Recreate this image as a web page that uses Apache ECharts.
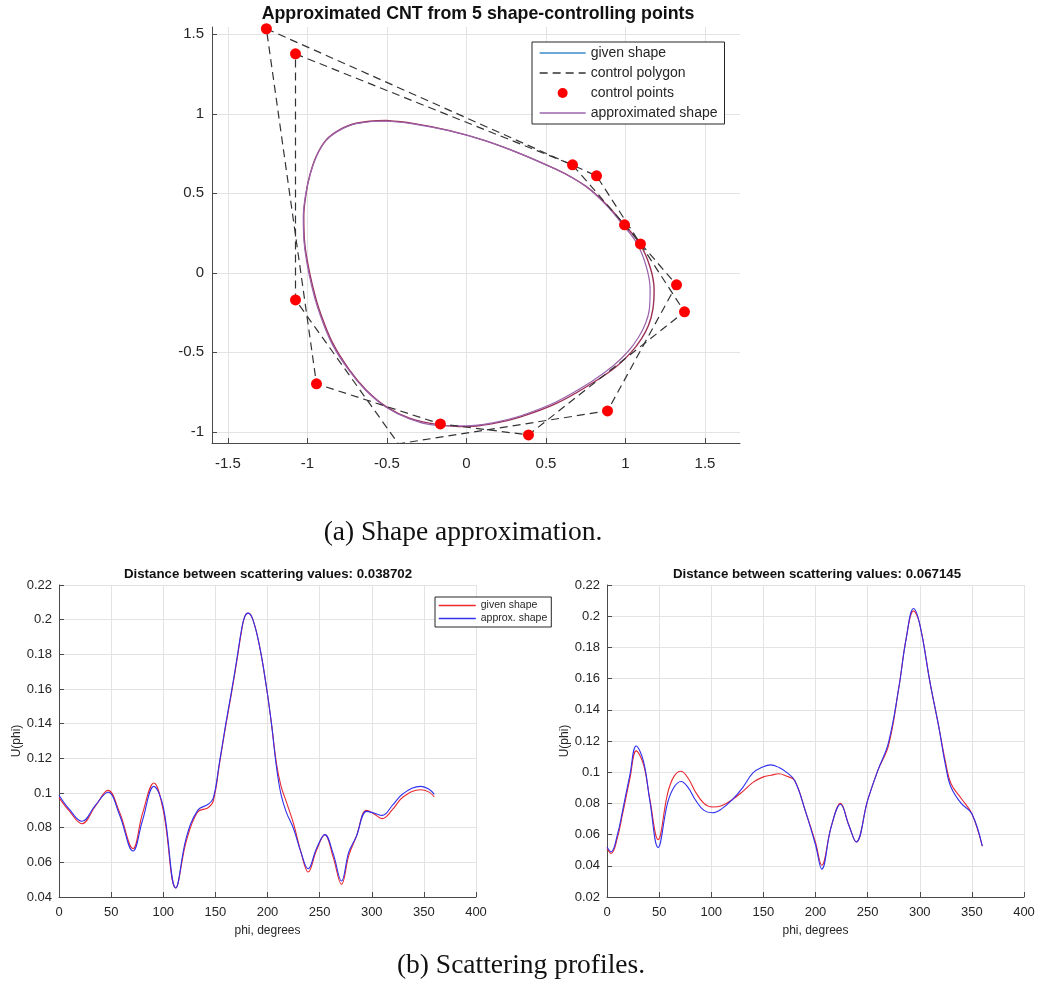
<!DOCTYPE html>
<html><head><meta charset="utf-8">
<script src="https://cdn.jsdelivr.net/npm/echarts@6/dist/echarts.min.js"></script>
<style>html,body{margin:0;padding:0;background:#fff}#c{width:1042px;height:988px}</style>
</head><body><div id="c"></div>
<script>
// ---------- (a) Shape approximation ----------
const outerPolygon = [[-1.258,1.535],[0.818,0.610],[1.094,0.182],[1.371,-0.245],[0.390,-1.019],[-0.164,-0.950],[-0.943,-0.698]];
const innerPolygon = [[-1.075,1.377],[0.667,0.679],[0.994,0.302],[1.321,-0.075],[0.887,-0.868],[-0.428,-1.075],[-1.075,-0.170]];
const givenShape = [[-0.505,0.958],[-0.694,0.941],[-0.799,0.899],[-0.882,0.836],[-0.945,0.732],[-0.987,0.606],[-1.008,0.501],[-1.023,0.354],[-1.019,0.208],[-1.002,0.082],[-0.968,-0.08],[-0.925,-0.233],[-0.841,-0.442],[-0.736,-0.610],[-0.631,-0.736],[-0.505,-0.841],[-0.358,-0.914],[-0.170,-0.956],[0,-0.967],[0.165,-0.948],[0.337,-0.907],[0.562,-0.823],[0.787,-0.696],[0.935,-0.595],[1.035,-0.50],[1.10,-0.415],[1.145,-0.33],[1.172,-0.23],[1.180,-0.107],[1.155,0.035],[1.088,0.187],[0.983,0.313],[0.90,0.41],[0.818,0.49],[0.75,0.545],[0.667,0.598],[0.562,0.652],[0.337,0.75],[0.112,0.833],[-0.112,0.896],[-0.337,0.940],[-0.505,0.958]];
const approxShape = [[-0.505,0.955],[-0.694,0.938],[-0.799,0.896],[-0.882,0.833],[-0.945,0.729],[-0.987,0.603],[-1.010,0.498],[-1.026,0.351],[-1.022,0.205],[-1.006,0.079],[-0.973,-0.083],[-0.930,-0.236],[-0.846,-0.445],[-0.740,-0.612],[-0.634,-0.738],[-0.505,-0.845],[-0.358,-0.918],[-0.170,-0.960],[0,-0.962],[0.165,-0.943],[0.337,-0.900],[0.562,-0.812],[0.787,-0.683],[0.925,-0.583],[1.020,-0.49],[1.082,-0.405],[1.125,-0.32],[1.150,-0.23],[1.155,-0.107],[1.132,0.035],[1.073,0.184],[0.975,0.312],[0.895,0.408],[0.815,0.489],[0.75,0.544],[0.667,0.597],[0.562,0.651],[0.337,0.75],[0.112,0.833],[-0.112,0.894],[-0.337,0.937],[-0.505,0.955]];
const xTicksA = [-1.5,-1,-0.5,0,0.5,1,1.5];
const yTicksA = [-1,-0.5,0,0.5,1,1.5];

// ---------- (b) Scattering profiles ----------
const phiL    = [0,10,22,35,47,58,71,80,91,100,112,122,133,143,148,154,160,165,170,175,178,181.5,186,192.6,199,203.8,208.6,213,218,225,232,239,247,255,263,271,278,285,295,302,310,320,330,347,355,360];
const givenL  = [0.0973,0.0895,0.0823,0.0925,0.1015,0.089,0.0679,0.088,0.1058,0.090,0.0452,0.072,0.089,0.0915,0.0955,0.117,0.139,0.156,0.174,0.193,0.2015,0.2038,0.200,0.184,0.161,0.140,0.117,0.104,0.095,0.0823,0.066,0.0544,0.067,0.076,0.063,0.0473,0.064,0.0746,0.090,0.088,0.0852,0.0905,0.0977,0.1019,0.1005,0.0977];
const approxL = [0.0987,0.0905,0.0837,0.0930,0.1004,0.0875,0.0665,0.084,0.1038,0.092,0.0452,0.074,0.090,0.0935,0.097,0.118,0.140,0.157,0.175,0.194,0.2015,0.2038,0.200,0.184,0.161,0.140,0.115,0.099,0.089,0.0794,0.066,0.0563,0.068,0.076,0.065,0.0492,0.066,0.0746,0.0894,0.0885,0.0871,0.093,0.0996,0.1038,0.1022,0.0992];
const phiR    = [0,4,10,15,22,28,35,41,49,58,64,71,78,85,93,101,110,120,130,140,150,157,165,172,180,190,200,206,215,224,232,239,250,260,270,280,287,294,300,310,318,325,330,340,350,360];
const givenR  = [0.051,0.0479,0.058,0.0734,0.096,0.1137,0.105,0.083,0.0568,0.086,0.097,0.1006,0.096,0.0872,0.080,0.0777,0.0785,0.0823,0.0875,0.0935,0.097,0.098,0.099,0.0975,0.0947,0.0757,0.055,0.0404,0.0649,0.080,0.066,0.0553,0.0819,0.1015,0.117,0.1545,0.1858,0.2034,0.195,0.157,0.130,0.1055,0.0926,0.083,0.0734,0.0526];
const approxR = [0.0521,0.049,0.060,0.0755,0.0985,0.1168,0.107,0.082,0.0517,0.080,0.090,0.094,0.090,0.082,0.0755,0.074,0.0765,0.0823,0.090,0.0995,0.1035,0.1047,0.103,0.100,0.0947,0.0757,0.0535,0.0379,0.0649,0.0795,0.066,0.0553,0.0819,0.1015,0.119,0.1545,0.1858,0.2049,0.1948,0.157,0.130,0.1034,0.0904,0.0798,0.0734,0.0526];

const pairs = (xs, ys) => xs.map((x, i) => [x, ys[i]]);
const closed = a => a.concat([a[0]]);

const FONT = 'Liberation Sans, Arial, sans-serif';
const AX = '#262626';
const GRID = '#e3e3e3';

function valueAxis(gi, min, max, extra) {
  return Object.assign({
    type: 'value', gridIndex: gi, min: min, max: max,
    axisLine: {show: true, onZero: false, lineStyle: {color: '#4a4a4a', width: 1}},
    axisTick: {show: true, inside: true, length: 5, lineStyle: {color: '#4a4a4a'}},
    axisLabel: {color: AX, fontFamily: FONT, fontSize: 13},
    splitLine: {show: true, lineStyle: {color: GRID, width: 1}}
  }, extra || {});
}
const hideSym = {opacity: 0};

const chart = echarts.init(document.getElementById('c'), null, {renderer: 'canvas'});
const option = {
  animation: false,
  backgroundColor: '#fff',
  grid: [
    {left: 212, top: 27, width: 528, height: 416},
    {left: 59, top: 585, width: 417, height: 312},
    {left: 607, top: 585, width: 417, height: 312}
  ],
  xAxis: [
    valueAxis(0, -1.6, 1.72, {
      axisTick: {show: true, inside: true, length: 5, customValues: xTicksA, lineStyle: {color: '#4a4a4a'}},
      axisLabel: {color: AX, fontFamily: FONT, fontSize: 15, margin: 13, customValues: xTicksA}
    }),
    valueAxis(1, 0, 400, {interval: 50, axisLabel: {color: AX, fontFamily: FONT, fontSize: 13, margin: 9},
      name: 'phi, degrees', nameLocation: 'middle', nameGap: 28, nameTextStyle: {color: AX, fontFamily: FONT, fontSize: 12}}),
    valueAxis(2, 0, 400, {interval: 50, axisLabel: {color: AX, fontFamily: FONT, fontSize: 13, margin: 9},
      name: 'phi, degrees', nameLocation: 'middle', nameGap: 28, nameTextStyle: {color: AX, fontFamily: FONT, fontSize: 12}})
  ],
  yAxis: [
    valueAxis(0, -1.07, 1.546, {
      axisTick: {show: true, inside: true, length: 5, customValues: yTicksA, lineStyle: {color: '#4a4a4a'}},
      axisLabel: {color: AX, fontFamily: FONT, fontSize: 15, margin: 8, customValues: yTicksA}
    }),
    valueAxis(1, 0.04, 0.22, {interval: 0.02, axisLabel: {color: AX, fontFamily: FONT, fontSize: 13, margin: 7},
      name: 'U(phi)', nameLocation: 'middle', nameGap: 35, nameRotate: 90, nameTextStyle: {color: AX, fontFamily: FONT, fontSize: 12}}),
    valueAxis(2, 0.02, 0.22, {interval: 0.02, axisLabel: {color: AX, fontFamily: FONT, fontSize: 13, margin: 7},
      name: 'U(phi)', nameLocation: 'middle', nameGap: 35, nameRotate: 90, nameTextStyle: {color: AX, fontFamily: FONT, fontSize: 12}})
  ],
  legend: [
    {
      orient: 'vertical', left: 532, top: 42, padding: [4, 7, 4, 7], itemGap: 6,
      itemWidth: 46, itemHeight: 10, backgroundColor: '#fff', borderColor: '#262626', borderWidth: 1,
      borderRadius: 0, selectedMode: false,
      textStyle: {fontFamily: FONT, fontSize: 14, color: AX},
      data: [
        {name: 'given shape', itemStyle: hideSym, lineStyle: {color: '#3a8ecb', width: 1.3, type: 'solid'}},
        {name: 'control polygon', itemStyle: hideSym, lineStyle: {color: '#333', width: 1.3, type: [8, 5]}},
        {name: 'control points', icon: 'circle', itemStyle: {color: '#ff0000'}},
        {name: 'approximated shape', itemStyle: hideSym, lineStyle: {color: '#9a64ad', width: 1.3, type: 'solid'}}
      ]
    },
    {
      orient: 'vertical', left: 435, top: 597, padding: [3, 4, 3, 3], itemGap: 2,
      itemWidth: 37, itemHeight: 10, backgroundColor: '#fff', borderColor: '#262626', borderWidth: 1,
      borderRadius: 0, selectedMode: false,
      textStyle: {fontFamily: FONT, fontSize: 10.5, color: AX},
      data: [
        {name: 'given shape ', itemStyle: hideSym, lineStyle: {color: '#ee2a2a', width: 1.5, type: 'solid'}},
        {name: 'approx. shape', itemStyle: hideSym, lineStyle: {color: '#3333f0', width: 1.5, type: 'solid'}}
      ]
    }
  ],
  graphic: [
    {type: 'text', x: 478, y: 14, style: {text: 'Approximated CNT from 5 shape-controlling points', fontFamily: FONT, fontWeight: 'bold', fontSize: 17.8, fill: '#111', align: 'center', verticalAlign: 'middle'}},
    {type: 'text', x: 268, y: 574, style: {text: 'Distance between scattering values: 0.038702', fontFamily: FONT, fontWeight: 'bold', fontSize: 13.3, fill: '#111', align: 'center', verticalAlign: 'middle'}},
    {type: 'text', x: 817, y: 574, style: {text: 'Distance between scattering values: 0.067145', fontFamily: FONT, fontWeight: 'bold', fontSize: 13.3, fill: '#111', align: 'center', verticalAlign: 'middle'}},
    {type: 'text', x: 463, y: 533, style: {text: '(a) Shape approximation.', fontFamily: 'Liberation Serif, Times New Roman, serif', fontSize: 27.5, fill: '#111', align: 'center', verticalAlign: 'middle'}},
    {type: 'text', x: 521, y: 966, style: {text: '(b) Scattering profiles.', fontFamily: 'Liberation Serif, Times New Roman, serif', fontSize: 27.5, fill: '#111', align: 'center', verticalAlign: 'middle'}}
  ],
  series: [
    {name: 'given shape', type: 'line', xAxisIndex: 0, yAxisIndex: 0, data: givenShape, smooth: 0.4, symbol: 'none', z: 2,
      lineStyle: {color: '#9c2f56', width: 1.4}, itemStyle: {color: '#9c2f56'}},
    {name: 'approximated shape', type: 'line', xAxisIndex: 0, yAxisIndex: 0, data: approxShape, smooth: 0.4, symbol: 'none', z: 2,
      lineStyle: {color: '#9a64ad', width: 1.2}, itemStyle: {color: '#9a64ad'}},
    {name: 'control polygon', type: 'line', xAxisIndex: 0, yAxisIndex: 0, data: closed(outerPolygon), symbol: 'none', z: 3,
      lineStyle: {color: '#333', width: 1.2, type: [8, 5]}, itemStyle: {color: '#333'}},
    {name: 'control polygon', type: 'line', xAxisIndex: 0, yAxisIndex: 0, data: closed(innerPolygon), symbol: 'none', z: 3,
      lineStyle: {color: '#333', width: 1.2, type: [8, 5]}, itemStyle: {color: '#333'}},
    {name: 'control points', type: 'scatter', xAxisIndex: 0, yAxisIndex: 0, data: outerPolygon.concat(innerPolygon), symbolSize: 11, z: 4,
      itemStyle: {color: '#ff0000', opacity: 1}},

    {name: 'given shape ', type: 'line', xAxisIndex: 1, yAxisIndex: 1, data: pairs(phiL, givenL), smooth: 0.4, symbol: 'none',
      lineStyle: {color: '#e8282f', width: 1.1}, itemStyle: {color: '#e8282f'}},
    {name: 'approx. shape', type: 'line', xAxisIndex: 1, yAxisIndex: 1, data: pairs(phiL, approxL), smooth: 0.4, symbol: 'none',
      lineStyle: {color: '#2f2ff0', width: 1.1}, itemStyle: {color: '#2f2ff0'}},
    {name: 'given shape ', type: 'line', xAxisIndex: 2, yAxisIndex: 2, data: pairs(phiR, givenR), smooth: 0.4, symbol: 'none',
      lineStyle: {color: '#e8282f', width: 1.1}, itemStyle: {color: '#e8282f'}},
    {name: 'approx. shape', type: 'line', xAxisIndex: 2, yAxisIndex: 2, data: pairs(phiR, approxR), smooth: 0.4, symbol: 'none',
      lineStyle: {color: '#2f2ff0', width: 1.1}, itemStyle: {color: '#2f2ff0'}}
  ]
};
chart.setOption(option);
</script>
</body></html>
